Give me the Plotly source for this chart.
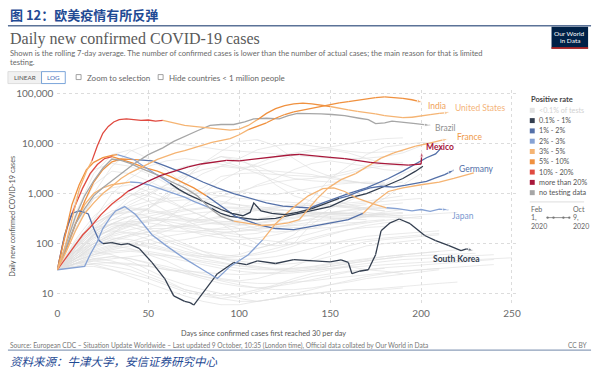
import math
import plotly.graph_objects as go

W, H = 600, 369

# ---------------- data ----------------
categories = ['<0.1% of tests', '0.1% - 1%', '1% - 2%', '2% - 3%', '3% - 5%',
              '5% - 10%', '10% - 20%', 'more than 20%', 'no testing data']
cat_keys = ['lt01', '0.1-1', '1-2', '2-3', '3-5', '5-10', '10-20', '>20', 'none']
cat_colors = ['#e3e3e3', '#333e4f', '#5470a8', '#86a2d4', '#f5b473',
              '#f0913f', '#e04a40', '#a8173a', '#a6a6a6']
COL = dict(zip(cat_keys, cat_colors))

x_ticks = [0, 50, 100, 150, 200, 250]
y_ticks = [10, 100, 1000, 10000, 100000]
y_ticktext = ['10', '100', '1,000', '10,000', '100,000']

us_days = [0,4,8,12,16,19,22,25,28,31,34,38,42,46,50,54,58,62,66,70,75,80,85,90,95,100,105,110,115,120,
           125,130,135,140,145,150,155,160,165,170,175,180,185,190,195,200,205,210,216]
us_cases = [30,80,300,1200,2800,4500,9000,16000,22000,27000,30000,31000,30000,29000,29500,28000,29000,27000,25000,23000,
            22000,21000,20000,19000,18500,19500,23000,30000,40000,50000,57000,62000,64000,62000,58000,55000,50000,47000,44000,42000,
            39000,36000,34000,33000,33500,36000,38000,40000,42000]
us_rate = [(0, '3-5'), (19, '10-20'), (58, '3-5'), (110, '5-10'), (150, '3-5')]

india_days = [0,5,10,15,20,25,30,35,40,45,50,55,60,65,70,75,80,85,90,95,100,105,110,115,120,125,130,135,140,145,
              150,155,160,165,170,175,180,185,190,195,201]
india_cases = [30,70,180,400,650,1000,1400,2000,2600,3200,3800,4800,5600,6500,7200,8300,9300,10500,11500,12500,
               15000,19000,22500,26000,32000,38000,43000,47000,51000,56000,61000,65000,69000,74000,79000,83000,86000,84000,80000,75000,66000]
india_rate = [(0, '3-5'), (105, '5-10')]

brazil_days = [0,5,10,15,20,25,30,35,42,50,58,64,70,77,84,90,97,103,108,115,122,127,132,140,145,151,158,166,171,175,180,184,190,197,205]
brazil_cases = [30,90,250,500,900,1300,1800,2500,3900,6000,8200,11000,14000,18000,23000,24000,24000,27000,31000,32000,
                31000,36000,40000,40000,39000,38000,36000,32000,30000,25000,26000,28000,27000,25000,23000]
brazil_rate = [(0, 'none')]

france_days = [0,5,10,15,20,25,30,35,40,45,50,57,63,70,77,84,90,97,105,112,120,127,133,138,143,149,156,164,171,178,185,192,197,203,209,215]
france_cases = [30,100,350,900,1800,3200,4900,4600,4000,3300,2800,2200,1700,1300,900,500,350,280,250,230,
                240,260,300,500,800,1300,1900,2500,3600,5100,6500,7800,8900,9800,11000,12500]
france_rate = [(0, 'none'), (97, '3-5')]

mexico_days = [0,5,10,14,18,24,30,35,39,45,50,57,64,72,79,86,93,100,110,120,128,133,140,150,158,166,172,178,186,193,200,200.5]
mexico_cases = [30,55,95,150,210,380,620,850,1120,1450,1780,2300,2800,3400,3900,4300,4600,4500,5000,5500,
                5900,6100,5700,5300,5000,4500,4200,4000,3900,3700,3900,7000]
mexico_rate = [(0, '10-20'), (39, '>20')]

germany_days = [0,4,8,12,16,20,25,30,33,37,42,47,52,57,62,67,72,78,84,90,96,102,106,108,112,118,125,132,140,148,
                155,160,166,172,178,185,191,197,203,208,213,218]
germany_cases = [30,130,600,1500,3000,4200,5200,5800,6000,5500,4800,3600,2800,2100,1600,1200,950,750,600,480,
                 400,360,420,650,450,400,380,420,500,650,800,900,1100,1300,1400,1350,1450,1600,1750,2050,2400,2950]
germany_rate = [(0, '5-10'), (33, '2-3'), (62, '0.1-1'), (155, '1-2')]

japan_days = [0,8,15,18,22,25,29,32,37,43,48,52,60,70,80,88,95,105,113,120,129,138,146,152,158,165,175,181,187,195,200,205,210,215]
japan_cases = [30,32,35,60,110,200,330,450,550,380,220,150,90,50,30,20,35,60,120,250,
               500,900,1250,1300,1100,800,600,520,500,450,480,440,490,470]
japan_rate = [(0, '2-3'), (113, '3-5'), (181, '2-3')]

korea_days = [0,4,8,12,15,17,20,23,25,30,35,39,45,52,59,64,70,73,75,80,88,97,104,110,120,130,140,150,156,160,
              162,166,171,175,178,183,188,194,202,208,215,222,225,229]
korea_cases = [30,150,400,450,420,390,200,115,100,105,95,100,80,42,20,9,7,6.6,5.9,10.5,25,42,38,45,40,48,45,43,47,42,
               25,28,30,60,180,260,310,250,145,115,92,72,78,72]
korea_rate = [(0, '1-2'), (25, '0.1-1')]

italy_days = [0,3,6,10,14,18,22,26,30,34,38,42,48,55,62,68,75,82,90,98,105,112,120,130,140,150,160,168,175,182,190,200,210,218,224,229]
italy_cases = [30,100,250,600,1300,2500,3800,5000,5500,5000,4400,4000,3300,2800,2200,1700,1300,900,550,350,
               280,230,200,190,220,260,300,400,700,1100,1300,1500,1700,2000,2300,2600]
italy_rate = [(0, '10-20'), (30, '5-10'), (82, '1-2'), (168, '3-5')]

uk_days = [0,5,10,15,20,25,30,35,40,45,52,60,70,80,88,97,106,115,124,132,139,146,153,160,170,176,182,190,197,203,208,211]
uk_cases = [30,80,250,700,1700,3000,4300,4900,4800,4700,4500,3500,2500,1700,1300,1000,810,650,560,530,
            515,650,810,1000,1300,1600,2000,2800,3900,5200,6200,8100]
uk_rate = [(0, '5-10'), (45, '1-2')]

canada_days = [0,5,10,15,20,25,30,35,40,45,50,55,60,65,70,75,80,85,90,95,100,110,120,130,140,150,160,170,180,190,197,201]
canada_cases = [30,80,250,600,1000,1300,1500,1600,1700,1650,1500,1300,1150,1000,850,700,600,500,400,350,
                330,300,320,380,450,550,810,1000,1400,2000,2800,3500]
canada_rate = [(0, '3-5'), (40, '2-3'), (85, '0.1-1')]

# other countries (faded), daily values every 10 days
grey_step = 10
grey_lines = [
    [30,90,250,400,500,450,380,300,260,240,260,300,380,420,500,550,600,650,700,750,800],
    [30,60,120,200,260,300,280,240,200,170,150,160,200,260,320,380,400,420,380,350],
    [30,45,70,90,80,60,45,30,25,20,18,20,25,35,50,70,90,110,120,130,140,150],
    [30,40,50,45,35,25,18,12,10,9,10,12,15,20,25,30,35,30,28,25],
    [30,100,300,600,900,1200,1300,1200,1000,900,800,750,700,650,620,600,650,700,800,900],
    [30,70,150,180,160,120,90,70,60,55,60,80,100,130,160,200,240,280,300],
    [30,50,90,140,170,150,110,80,60,50,45,40,38,40,45,55,70,90,100,110,120],
    [30,35,40,35,30,22,16,12,10,8,9,11,14,18,22,25,28,30,32],
    [30,80,200,300,350,330,300,280,300,350,420,500,550,600,580,560,540,520,500,480],
    [30,55,100,150,190,220,230,220,200,190,200,220,250,280,300,320,330,340,350,360,380,400,420],
    [30,40,60,80,100,120,140,160,180,200,230,260,300,340,380,420,460,500,540],
    [30,65,140,220,250,200,140,100,70,50,40,35,30,28,30,35,40,45,50,55],
    [30,50,70,60,45,30,20,15,12,10,8,7,8,10,12,15,18,22,25,28,30,32],
    [30,120,350,700,1000,900,700,500,350,250,200,180,170,180,200,250,300,350,400],
    [30,45,60,75,90,100,110,120,140,160,180,200,220,230,240,250,260,270],
    [30,70,160,300,450,600,700,750,700,650,600,550,500,450,400,380,360,350,340,330,320],
    [30,40,45,40,38,35,30,28,26,25,24,25,26,28,30,32,34,36,38,40,42,44,46,48,50,52],
    [30,60,100,130,120,100,80,65,55,50,48,50,55,65,80,100,120,140,150,160,170,180],
    [30,90,180,240,220,170,120,90,70,60,55,60,70,90,120,150,190,230,260,280],
    [30,35,35,30,25,20,15,11,9,8,7,7,8,9,10,11,12,12,13,14,15,16,17],
    [30,50,80,110,140,170,200,220,240,260,290,320,350,380,400,420,410,400],
    [30,75,180,350,550,700,800,850,800,700,600,500,420,380,360,350,360,380,400,420],
    [30,40,55,65,70,65,55,45,38,32,28,26,25,26,28,32,36,40,44,48,50,52,55,58,60],
    [30,55,90,110,100,85,70,60,55,52,55,65,80,100,130,160,190,210,220],
    [30,45,65,85,110,140,180,230,280,340,400,460,520,560,580,560,520,480,450],
    [30,38,48,55,50,40,32,25,20,16,14,13,14,16,19,23,27,30,33,35,37,40,42,45,48],
    [30,85,220,380,420,350,260,190,150,130,120,130,150,180,220,270,330,380,430,480],
    [30,60,110,170,230,300,380,450,500,520,500,460,420,380,350,330,310,300],
    [30,35,45,50,55,60,58,52,45,40,36,34,32,32,34,38,42,48,55,60,65,70],
    [30,50,75,95,100,90,75,60,50,42,36,32,30,30,32,35,40,45,50,55,58,60,62,64],
    [30,110,280,450,520,480,400,330,280,250,240,250,280,320,370,420,480,540,600,650],
    [30,40,50,55,50,42,35,28,22,18,15,13,12,12,13,15,17,20,22,25,27,30],
    [30,70,130,190,240,280,300,310,300,280,260,240,220,210,200,210,230,260,290,320,350],
    [30,45,60,70,75,70,60,50,42,36,32,30,30,32,35,40,45,50,55,60,65,70,75],
    [30,55,100,160,220,280,330,380,420,450,470,480,470,450,430,410,390,380,370],
    [30,35,40,42,40,36,30,26,22,19,17,16,16,17,18,20,22,24,26,28,30,32,34,36,38],
    [30,80,170,250,280,260,230,200,180,170,175,190,210,240,270,300,330,360,380,400],
    [30,50,85,120,150,170,180,175,165,150,135,120,110,105,100,105,110,120,130,140,150,160],
    [30,40,38,30,22,16,12,9,7,6,6,7,8,9,10,11,12,12,12,13],
    [30,65,130,200,280,350,420,480,520,540,530,500,470,440,420,400,390,380],
    [30,200,1000,3500,7000,9500,10500,9500,8500,7500,7000,6500,6200,5800,5400,5100,5000,5100,5500,6500,9000],
    [30,80,300,1000,2000,3500,4500,5000,4500,3800,3300,3500,4500,5800,7000,7500,6500,5000,4000,3500],
    [30,60,150,250,350,500,900,1500,2500,3500,5000,7500,9000,10000,9000,8000,7000,6500,6800,7000],
    [30,50,90,120,150,200,300,600,1000,1800,2800,4000,5500,6500,7500,8500,10000,11500,12500,13000],
    [30,70,100,150,300,500,1000,2000,4000,7000,11000,12000,9000,5000,3000,2200,1800,1600,1500,1700],
    [30,400,2500,6000,7500,5000,3000,1500,700,400,250,200,250,400,800,2000,3500,6000,8500,9500,10500,10000],
    [30,300,1500,2800,2500,1800,1200,1000,1300,2200,2500,2600,2400,2300,2200,2100,2500,3200,3600,3900],
    [30,100,250,380,450,500,800,2000,4000,5500,4500,3500,2500,2000,1800,1700,1700,1600,1600],
    [30,800,3000,4000,3500,2500,1600,1000,1000,1100,1100,1000,950,1100,1300,1500,1600,1700,1650],
    [30,80,200,400,900,1500,2500,3500,4000,4500,3500,2500,1800,1300,1000,800,600,500,450],
    [30,100,250,400,600,900,1500,2500,4000,5500,5000,3000,1500,900,700,600,550,600],
    [30,60,150,400,700,1000,1500,2200,3000,3500,3200,2900,2800,2600,2400,2000,1800,1600,1500],
    [30,70,150,250,350,400,450,550,700,900,1100,1400,1700,1900,2000,2300,2800,3500,4000,4200],
    [30,100,200,250,250,200,200,250,350,600,1000,1500,2000,3000,4000,4500,4000,3500,3000,2800],
    [30,250,800,1100,1000,700,450,300,200,150,100,80,100,150,300,500,700,1000,1500,2500,3500],
    [30,200,800,1300,1500,1100,800,500,350,250,150,100,90,100,250,400,400,500,800,1500,2500],
]

countries = [
    # name, days, cases, rate segments, label, label colour
    ('Canada', canada_days, canada_cases, canada_rate, None, None),
    ('Italy', italy_days, italy_cases, italy_rate, None, None),
    ('United Kingdom', uk_days, uk_cases, uk_rate, None, None),
    ('South Korea', korea_days, korea_cases, korea_rate, '<b>South Korea</b>', '#333e4f'),
    ('Japan', japan_days, japan_cases, japan_rate, 'Japan', '#7b98cf'),
    ('Germany', germany_days, germany_cases, germany_rate, 'Germany', '#5470a8'),
    ('France', france_days, france_cases, france_rate, 'France', '#f09a4a'),
    ('Brazil', brazil_days, brazil_cases, brazil_rate, 'Brazil', '#8f8f8f'),
    ('Mexico', mexico_days, mexico_cases, mexico_rate, '<b>Mexico</b>', '#a8173a'),
    ('India', india_days, india_cases, india_rate, 'India', '#f0a25a'),
    ('United States', us_days, us_cases, us_rate, 'United States', '#f4b47a'),
]

# label offsets (pixels) relative to each line's end
label_offsets = {
    'India': (3, -3, 'left'), 'United States': (3, 4, 'left'), 'Brazil': (3, -3, 'left'),
    'France': (7, 2, 'left'), 'Mexico': (2, 4, 'left'), 'Germany': (3, 1, 'left'),
    'Japan': (2, -6, 'left'), 'South Korea': (-17, -8, 'center'),
}

# ---------------- figure ----------------
fig = go.Figure()

X0, X1 = 55, 520          # plot area in pixels
Y0, Y1 = 88, 306
fig.update_layout(
    width=W, height=H, autosize=False,
    margin=dict(l=0, r=0, t=0, b=0),
    paper_bgcolor='white', plot_bgcolor='white',
    showlegend=False,
    font=dict(family='Lato, sans-serif', color='#666'),
    xaxis=dict(domain=[X0 / W, X1 / W], range=[0, (X1 - X0) / 1.84],
               tickvals=x_ticks, showgrid=True, gridcolor='#dcdcdc', griddash='dot',
               gridwidth=1, zeroline=False, showline=False, ticks='',
               tickfont=dict(size=10, color='#6a6a6a', family='Lato')),
    yaxis=dict(domain=[1 - Y1 / H, 1 - Y0 / H], type='log',
               range=[5 - (Y1 - 92) / 50.3, 5 + (92 - Y0) / 50.3],
               tickvals=y_ticks, ticktext=y_ticktext, showgrid=True, gridcolor='#dcdcdc',
               griddash='dot', gridwidth=1, zeroline=False, showline=False, ticks='',
               ticklabelstandoff=3,
               tickfont=dict(size=10, color='#6a6a6a', family='Lato')),
)

for vals in grey_lines:
    d = [i * grey_step for i in range(len(vals))]
    fig.add_trace(go.Scatter(x=d, y=vals, mode='lines', hoverinfo='skip',
                             line=dict(color='#e1e1e1', width=0.7)))


def segments(days, rate):
    out = []
    for k, (s, cat) in enumerate(rate):
        e = rate[k + 1][0] if k + 1 < len(rate) else days[-1]
        i0 = max(i for i, dd in enumerate(days) if dd <= s)
        i1 = min([i for i, dd in enumerate(days) if dd >= e] or [len(days) - 1])
        out.append((i0, i1, cat))
    return out


annotations = []
for name, days, cases, rate, label, lcol in countries:
    segs = segments(days, rate)
    for j, (i0, i1, cat) in enumerate(segs):
        xs, ys = days[i0:i1 + 1], cases[i0:i1 + 1]
        last = j == len(segs) - 1 and label is not None
        fig.add_trace(go.Scatter(
            x=xs, y=ys, mode='lines+markers' if last else 'lines', name=name,
            line=dict(color=COL[cat], width=1.3),
            marker=dict(symbol='arrow', angleref='previous',
                        size=[0] * (len(xs) - 1) + [6], color=COL[cat]) if last else None,
        ))
    if label:
        dx, dy, anc = label_offsets[name]
        annotations.append(dict(
            x=days[-1], y=math.log10(cases[-1]), xref='x', yref='y',
            text=label, showarrow=False, xanchor=anc, yanchor='middle',
            xshift=dx, yshift=dy,
            font=dict(size=8.5, color=lcol, family='Lato')))


def P(x, y):
    return dict(x=x / W, y=1 - y / H, xref='paper', yref='paper')


def txt(x, y, s, size, color, anchor='left', family='Lato', **kw):
    a = P(x, y)
    a.update(text=s, showarrow=False, xanchor=anchor, yanchor='middle',
             font=dict(size=size, color=color, family=family), **kw)
    annotations.append(a)


shapes = []


def rect(x0, y0, x1, y1, fill, line='rgba(0,0,0,0)', lw=1):
    shapes.append(dict(type='rect', xref='paper', yref='paper',
                       x0=x0 / W, x1=x1 / W, y0=1 - y1 / H, y1=1 - y0 / H,
                       fillcolor=fill, line=dict(color=line, width=lw)))


def hline(x0, x1, y, color, lw=1, dash='solid'):
    shapes.append(dict(type='line', xref='paper', yref='paper',
                       x0=x0 / W, x1=x1 / W, y0=1 - y / H, y1=1 - y / H,
                       line=dict(color=color, width=lw, dash=dash)))


# header
txt(5, 13, '<b>图 12：欧美疫情有所反弹</b>', 13, '#1f4a94', family='Noto Sans CJK SC')
hline(5, 595, 24, '#5b7297', 1.5)
txt(5, 37, 'Daily new confirmed COVID-19 cases', 16, '#5a5a5a', family='Liberation Serif')
txt(5, 51, 'Shown is the rolling 7-day average. The number of confirmed cases is lower than the number of actual cases; the main reason for that is limited', 7.6, '#6a6a6a')
txt(5, 60, 'testing.', 7.6, '#6a6a6a')

# logo
rect(555, 25, 592, 47, '#002147')
rect(555, 45.5, 592, 47, '#ce261e')
txt(573.5, 31.5, 'Our World', 6.5, 'white', anchor='center')
txt(573.5, 39, 'in Data', 6.5, 'white', anchor='center')

# controls
rect(5, 70, 39, 82, '#f1f1f1', '#d6d6d6', 0.8)
rect(39, 70, 63, 82, 'white', '#5b8fd0', 0.8)
txt(22, 76, 'LINEAR', 6.3, '#555', anchor='center')
txt(51, 76, 'LOG', 6.3, '#3b6db5', anchor='center')
rect(74, 73, 79, 78, 'white', '#8a8a8a', 0.8)
txt(83, 76, 'Zoom to selection', 8, '#666')
rect(157, 73, 162, 78, 'white', '#8a8a8a', 0.8)
txt(166, 76, 'Hide countries < 1 million people', 8, '#666')

# axis titles
txt(10, 215, 'Daily new confirmed COVID-19 cases', 7.3, '#555', anchor='center', textangle=-90)
txt(264, 333, 'Days since confirmed cases first reached 30 per day', 7.3, '#555', anchor='center')

# positive-rate key
txt(532, 98, '<b>Positive rate</b>', 7.5, '#444')
for i, (lab, col) in enumerate(zip(categories, cat_colors)):
    yy = 109 + i * 10.35
    rect(533, yy - 2.6, 538, yy + 2.4, col)
    txt(540.5, yy, lab, 7.2, '#d2d2d2' if i == 0 else '#555')
hline(533, 588, 201, '#dddddd', 1)
for k, s in enumerate(['Feb', '1,', '2020']):
    txt(532, 208.5 + k * 8.3, s, 7, '#666')
for k, s in enumerate(['Oct', '9,', '2020']):
    txt(575, 208.5 + k * 8.3, s, 7, '#666')
hline(551, 573, 216.8, '#777', 0.8)
for cx in (551, 557, 567, 573):
    shapes.append(dict(type='circle', xref='paper', yref='paper',
                       x0=(cx - 1.2) / W, x1=(cx + 1.2) / W,
                       y0=1 - (216.8 + 1.2) / H, y1=1 - (216.8 - 1.2) / H,
                       fillcolor='#777', line=dict(width=0)))

# footer
txt(5, 345, 'Source: European CDC – Situation Update Worldwide – Last updated 9 October, 10:35 (London time), Official data collated by Our World in Data', 6.6, '#777')
txt(594, 345, 'CC BY', 6.6, '#777', anchor='right')
hline(5, 595, 350, '#6f86a8', 1)
txt(5, 361, '<i>资料来源：牛津大学，安信证券研究中心</i>', 11.5, '#1f4a94', family='Noto Sans CJK SC')

fig.update_layout(annotations=annotations, shapes=shapes)
fig.write_html('out.html', config={'displayModeBar': False},
               post_script="document.body.style.margin='0px';document.body.style.overflow='hidden';")
